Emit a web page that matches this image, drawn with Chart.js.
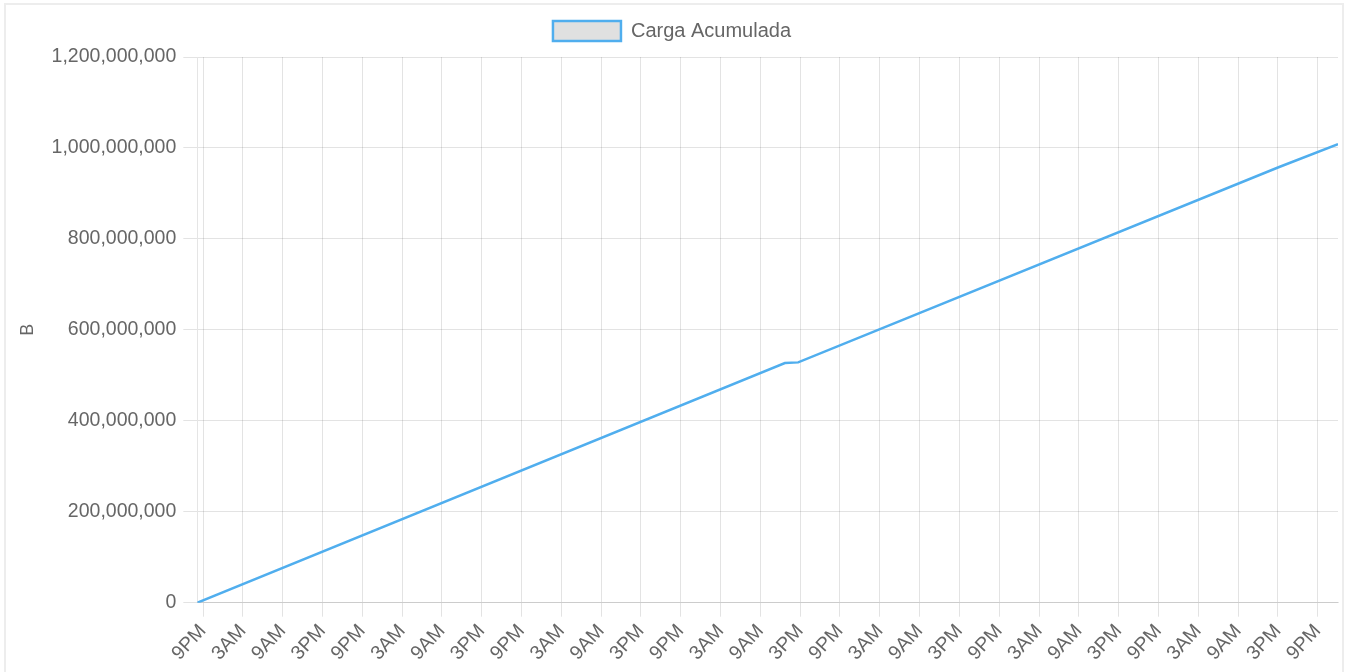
<!DOCTYPE html>
<html>
<head>
<meta charset="utf-8">
<script src="https://cdn.jsdelivr.net/npm/chart.js"></script>
<style>
    html, body { margin: 0; padding: 0; background: #fff; overflow: hidden; }
    #card {
        position: absolute; left: 4px; top: 3px;
        width: 1340px; height: 700px;
        box-sizing: border-box;
        border: 2px solid #ededed;
        background: #fff;
    }
    #grafico { position: absolute; left: 0; top: 0; }
</style>
</head>
<body>
<div id="card"><canvas id="grafico" width="1336" height="667"></canvas></div>
<script>
// eixo x: horas contadas a partir do primeiro 9PM
const tickLabels = ['9PM', '3AM', '9AM', '3PM', '9PM', '3AM', '9AM', '3PM', '9PM', '3AM',
    '9AM', '3PM', '9PM', '3AM', '9AM', '3PM', '9PM', '3AM', '9AM', '3PM',
    '9PM', '3AM', '9AM', '3PM', '9PM', '3AM', '9AM', '3PM', '9PM'];
const cargaHoras = [-0.86, 87.7, 89.7, 162.1, 171.06];
const cargaValores = [0, 527000000, 528500000, 957500000, 1008500000];
const yTicks = [0, 200000000, 400000000, 600000000, 800000000, 1000000000, 1200000000];

document.addEventListener('DOMContentLoaded', function() {
    const graficoCanvas = document.getElementById('grafico');
    const lineColor = 'rgb(80, 174, 238)';
    const gridColor = 'rgba(0, 0, 0, 0.11)';

    const pontos = cargaHoras.map((h, i) => ({ x: h, y: cargaValores[i] }));

    Chart.defaults.font.family = "'Liberation Sans', Arial, sans-serif";
    Chart.defaults.font.size = 19.5;
    Chart.defaults.color = '#666';

    // espaço extra entre a legenda e o gráfico
    const legendMargin = {
        id: 'legendMargin',
        beforeInit(chart) {
            const fitOriginal = chart.legend.fit;
            chart.legend.fit = function() {
                fitOriginal.bind(chart.legend)();
                this.height += 6;
            };
        }
    };

    new Chart(graficoCanvas, {
        type: 'line',
        data: {
            datasets: [{
                label: 'Carga Acumulada',
                data: pontos,
                borderColor: lineColor,
                backgroundColor: 'rgba(0, 0, 0, 0.12)',
                borderWidth: 2.5,
                pointRadius: 0,
                tension: 0,
                fill: false
            }]
        },
        plugins: [legendMargin],
        options: {
            responsive: false,
            animation: false,
            layout: { padding: { top: 6, right: 4, bottom: 4, left: 0 } },
            plugins: {
                legend: {
                    labels: { boxWidth: 68, boxHeight: 20, font: { size: 20 } }
                },
                tooltip: { enabled: false }
            },
            scales: {
                x: {
                    type: 'linear',
                    min: cargaHoras[0],
                    max: cargaHoras[cargaHoras.length - 1],
                    bounds: 'data',
                    afterBuildTicks: function(scale) {
                        scale.ticks = tickLabels.map((l, i) => ({ value: i * 6 }));
                    },
                    ticks: {
                        autoSkip: false,
                        minRotation: 47,
                        maxRotation: 47,
                        padding: 3,
                        callback: function(value) {
                            return tickLabels[Math.round(value / 6)];
                        }
                    },
                    grid: { color: gridColor, tickLength: 14 }
                },
                y: {
                    min: yTicks[0],
                    max: yTicks[yTicks.length - 1],
                    ticks: { stepSize: yTicks[1] - yTicks[0], padding: 7 },
                    grid: { color: gridColor, tickLength: 14 },
                    title: {
                        display: true,
                        text: 'B',
                        font: { size: 18 },
                        padding: { top: 11, bottom: 6 }
                    }
                }
            }
        }
    });
});
</script>
</body>
</html>
